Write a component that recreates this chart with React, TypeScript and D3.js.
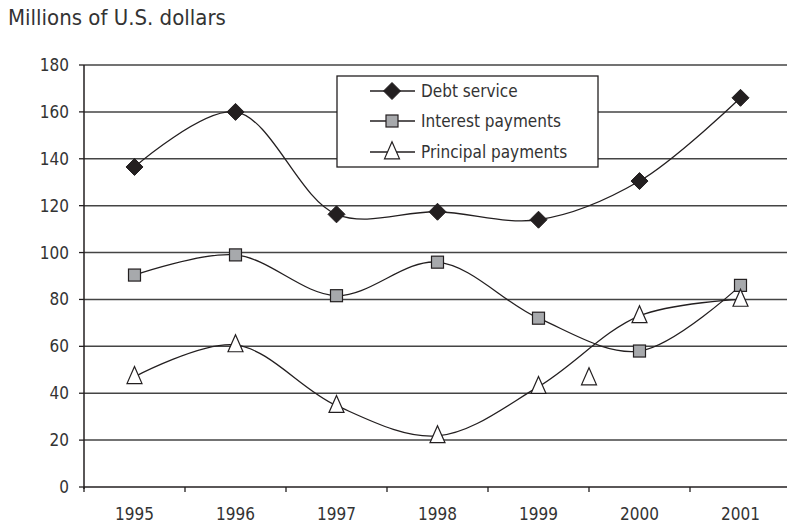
import React from 'react';
import * as d3 from 'd3';

const years = ['1995', '1996', '1997', '1998', '1999', '2000', '2001'];
const debtService = [136.5, 160, 116.3, 117.4, 114, 130.5, 166];
const interestPayments = [90.4, 99, 81.6, 95.9, 72, 58, 86];
const principalPayments = [47, 60.6, 34.7, 21.8, 42.8, 73, 80];
// a lone principal marker drawn between 1999 and 2000 in the source
const strayPrincipalBetween = [['1999', '2000']];
const strayPrincipalValues = [46.5];
const yTicks = [0, 20, 40, 60, 80, 100, 120, 140, 160, 180];
const seriesNames = ['Debt service', 'Interest payments', 'Principal payments'];

const W = 787;
const H = 525;
const FONT = "'Liberation Sans Narrow', 'DejaVu Sans Condensed', 'Arial Narrow', sans-serif";
const INK = '#231f20';
const TEXT = '#333';

function Marker({ kind, x, y }: { kind: number; x: number; y: number }) {
  if (kind === 0) {
    const r = 8.5;
    return <path d={`M${x},${y - r}L${x + r},${y}L${x},${y + r}L${x - r},${y}Z`} fill={INK} stroke={INK} strokeWidth={1} />;
  }
  if (kind === 1) {
    const s = 12;
    return <rect x={x - s / 2} y={y - s / 2} width={s} height={s} fill="#a7a9ac" stroke={INK} strokeWidth={1.2} />;
  }
  const hw = 7.5, h = 17;
  return <path d={`M${x},${y - h * 0.6}L${x + hw},${y + h * 0.4}L${x - hw},${y + h * 0.4}Z`} fill="#fff" stroke={INK} strokeWidth={1.2} />;
}

export default function App() {
  const x = d3.scaleBand<string>().domain(years).range([84, 791]);
  const y = d3.scaleLinear().domain([0, 180]).range([487, 65]);
  const cx = (c: string) => (x(c) as number) + x.bandwidth() / 2;
  const line = d3
    .line<number>()
    .x((_, i) => cx(years[i]))
    .y((d) => y(d))
    .curve(d3.curveCatmullRom.alpha(0.5));
  const allSeries = [debtService, interestPayments, principalPayments];

  const legendX = 337, legendY = 76, legendW = 261, legendH = 91;
  const rowY = [91, 121, 152];

  return (
    <svg width={W} height={H} style={{ position: 'absolute', left: 0, top: 0, background: '#fff' }} fontFamily={FONT}>
      <text x={8} y={25} fontSize={22} fill={TEXT}>Millions of U.S. dollars</text>

      {yTicks.filter((t) => t > 0).map((t) => (
        <line key={'g' + t} x1={84} x2={W} y1={y(t)} y2={y(t)} stroke="#444" strokeWidth={1.5} />
      ))}
      {yTicks.map((t) => (
        <g key={'t' + t}>
          <line x1={79} x2={84} y1={y(t)} y2={y(t)} stroke={INK} strokeWidth={1.3} />
          <text x={69} y={y(t) + 6} fontSize={17} textAnchor="end" fill={TEXT}>{t}</text>
        </g>
      ))}
      <line x1={84} x2={84} y1={65} y2={489} stroke={INK} strokeWidth={1.5} />
      <line x1={84} x2={W} y1={487} y2={487} stroke={INK} strokeWidth={1.5} />
      {years.map((c) => (
        <g key={'x' + c}>
          <line x1={x(c) as number} x2={x(c) as number} y1={487} y2={492} stroke={INK} strokeWidth={1.3} />
          <text x={cx(c)} y={520} fontSize={17} textAnchor="middle" fill={TEXT}>{c}</text>
        </g>
      ))}

      {allSeries.map((s, k) => (
        <path key={'l' + k} d={line(s) as string} fill="none" stroke={INK} strokeWidth={1.3} />
      ))}
      {allSeries.map((s, k) =>
        s.map((v, i) => <Marker key={`m${k}-${i}`} kind={k} x={cx(years[i])} y={y(v)} />)
      )}
      {strayPrincipalBetween.map((pair, i) => (
        <Marker key={'s' + i} kind={2} x={(cx(pair[0]) + cx(pair[1])) / 2} y={y(strayPrincipalValues[i])} />
      ))}

      <rect x={legendX} y={legendY} width={legendW} height={legendH} fill="#fff" stroke={INK} strokeWidth={1.3} />
      {seriesNames.map((n, k) => (
        <g key={'lg' + k}>
          <line x1={370} x2={415} y1={rowY[k]} y2={rowY[k]} stroke={INK} strokeWidth={1.3} />
          <Marker kind={k} x={392} y={rowY[k]} />
          <text x={421} y={rowY[k] + 6} fontSize={17} fill={TEXT}>{n}</text>
        </g>
      ))}
    </svg>
  );
}
